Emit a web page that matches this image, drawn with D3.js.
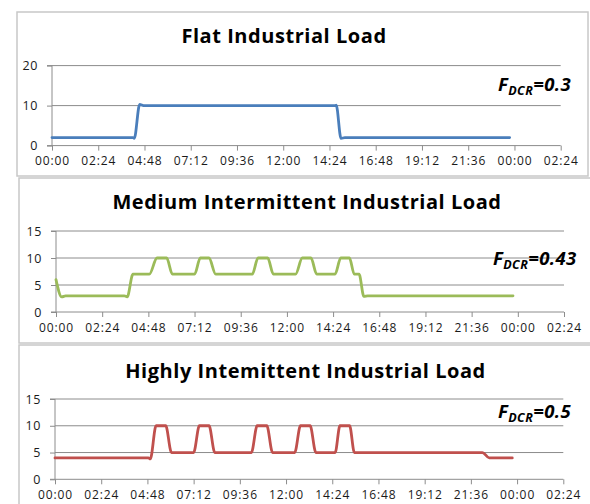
<!DOCTYPE html>
<html>
<head>
<meta charset="utf-8">
<script src="https://cdn.jsdelivr.net/npm/d3@7"></script>
<style>
  html, body { margin: 0; padding: 0; background: #ffffff; }
  svg { display: block; }
</style>
</head>
<body>
<svg id="chart" width="590" height="504"></svg>
<script>
// ---------------- data (hours of day, load) ----------------
const titles = ["Flat Industrial Load", "Medium Intermittent Industrial Load", "Highly Intemittent Industrial Load"];
const fdcrValues = ["0.3", "0.43", "0.5"];
const xTickHours = [0, 2.4, 4.8, 7.2, 9.6, 12, 14.4, 16.8, 19.2, 21.6, 24, 26.4];
const xTickLabels = ["00:00", "02:24", "04:48", "07:12", "09:36", "12:00", "14:24", "16:48", "19:12", "21:36", "00:00", "02:24"];
const yTicksFlat = [0, 10, 20];
const yTicksMedium = [0, 5, 10, 15];
const yTicksHigh = [0, 5, 10, 15];

const flatHours = [0, 4.2, 4.27, 4.55, 4.75, 14.7, 14.75, 15.0, 15.2, 23.75];
const flatLoad  = [2, 2, 1.8, 10.3, 10, 10, 10.1, 1.8, 2, 2];

const mediumHours = [0, 0.3, 0.5, 3.55, 3.7, 4.0, 4.2, 4.85, 5.25, 5.75, 6.05, 7.2, 7.5, 7.95, 8.3,
                     10.2, 10.5, 11.0, 11.3, 12.45, 12.8, 13.25, 13.55, 14.5, 14.8, 15.25, 15.5, 15.75, 16.0, 16.2, 23.75];
const mediumLoad  = [6, 2.8, 3, 3, 2.8, 7, 7, 7, 10, 10, 7, 7, 10, 10, 7,
                     7, 10, 10, 7, 7, 10, 10, 7, 7, 10, 10, 7, 7, 2.9, 3, 3];

const highHours = [0, 4.85, 4.95, 5.25, 5.75, 6.05, 7.2, 7.5, 8.0, 8.3, 10.2, 10.5, 11.0, 11.3,
                   12.45, 12.75, 13.25, 13.55, 14.55, 14.8, 15.3, 15.55, 22.2, 22.55, 23.75];
const highLoad  = [4, 4, 3.8, 10, 10, 5, 5, 10, 10, 5, 5, 10, 10, 5,
                   5, 10, 10, 5, 5, 10, 10, 5, 5, 4, 4];

// ---------------- layout ----------------
const panels = [
  { hours: flatHours, load: flatLoad, yTicks: yTicksFlat, yMax: 20, color: "#4A7EBB",
    box: [17, 12, 588, 176], x0: 52, x1: 560.7, yBottom: 145.6, yTop: 65.6,
    titleX: 284, titleY: 43, fX: 498, fY: 91 },
  { hours: mediumHours, load: mediumLoad, yTicks: yTicksMedium, yMax: 15, color: "#9BBB59",
    box: [19, 178, 600, 343], x0: 56, x1: 564, yBottom: 312, yTop: 231,
    titleX: 307, titleY: 209, fX: 493, fY: 265 },
  { hours: highHours, load: highLoad, yTicks: yTicksHigh, yMax: 15, color: "#C0504D",
    box: [19, 345, 600, 520], x0: 55, x1: 563.3, yBottom: 479.3, yTop: 399,
    titleX: 305.5, titleY: 377.5, fX: 498, fY: 418 }
];

const svg = d3.select("#chart");
const font = "'Open Sans', 'DejaVu Sans', sans-serif";

panels.forEach((p, i) => {
  const g = svg.append("g");
  // panel frame
  g.append("rect")
    .attr("x", p.box[0]).attr("y", p.box[1])
    .attr("width", p.box[2] - p.box[0]).attr("height", p.box[3] - p.box[1])
    .attr("fill", "#ffffff").attr("stroke", "#c8c8c8").attr("stroke-width", 1.5);

  const x = d3.scaleLinear().domain([0, 26.4]).range([p.x0, p.x1]);
  const y = d3.scaleLinear().domain([0, p.yMax]).range([p.yBottom, p.yTop]);

  // gridlines
  g.selectAll(".grid").data(p.yTicks.filter(t => t > 0)).enter().append("line")
    .attr("x1", p.x0).attr("x2", p.x1)
    .attr("y1", d => y(d)).attr("y2", d => y(d))
    .attr("stroke", "#8c8c8c").attr("stroke-width", 1);

  // y axis
  const yAxis = d3.axisLeft(y).tickValues(p.yTicks).tickSize(5).tickPadding(9).tickFormat(d3.format("d"));
  const ya = g.append("g").attr("transform", `translate(${p.x0},0)`).call(yAxis);
  ya.select(".domain").attr("stroke", "#8c8c8c").attr("d", `M-5,${p.yTop}H0V${p.yBottom}H-5`);
  ya.selectAll(".tick line").attr("stroke", "#8c8c8c");
  ya.selectAll(".tick text").attr("font-family", font).attr("font-size", 12.5)
    .attr("fill", "#1a1a1a").attr("letter-spacing", 0.6);

  // x axis
  const xAxis = d3.axisBottom(x).tickValues(xTickHours).tickSize(5).tickPadding(6)
    .tickFormat((d, j) => xTickLabels[j]);
  const xa = g.append("g").attr("transform", `translate(0,${p.yBottom})`).call(xAxis);
  xa.select(".domain").attr("stroke", "#8c8c8c").attr("d", `M${p.x0},0H${p.x1}`);
  xa.selectAll(".tick line").attr("stroke", "#8c8c8c");
  xa.selectAll(".tick text").attr("font-family", font).attr("font-size", 12)
    .attr("fill", "#1a1a1a").attr("letter-spacing", 0.9);

  // line
  const pts = p.hours.map((h, j) => [h, p.load[j]]);
  const line = d3.line().x(d => x(d[0])).y(d => y(d[1])).curve(d3.curveMonotoneX);
  g.append("path").datum(pts).attr("d", line)
    .attr("fill", "none").attr("stroke", p.color).attr("stroke-width", 2.8)
    .attr("stroke-linejoin", "round").attr("stroke-linecap", "round");

  // title
  g.append("text").attr("x", p.titleX).attr("y", p.titleY)
    .attr("text-anchor", "middle").attr("font-family", font)
    .attr("font-weight", "bold").attr("font-size", 20).attr("fill", "#000")
    .attr("letter-spacing", 0.55)
    .text(titles[i]);

  // F_DCR label
  const t = g.append("text").attr("x", p.fX).attr("y", p.fY)
    .attr("font-family", font).attr("font-weight", "bold").attr("font-style", "italic")
    .attr("fill", "#000").attr("letter-spacing", 0.4);
  t.append("tspan").attr("font-size", 18.5).text("F");
  t.append("tspan").attr("font-size", 12.5).attr("dy", 4).text("DCR");
  t.append("tspan").attr("font-size", 18.5).attr("dy", -4).text("=" + fdcrValues[i]);
});
</script>
</body>
</html>
